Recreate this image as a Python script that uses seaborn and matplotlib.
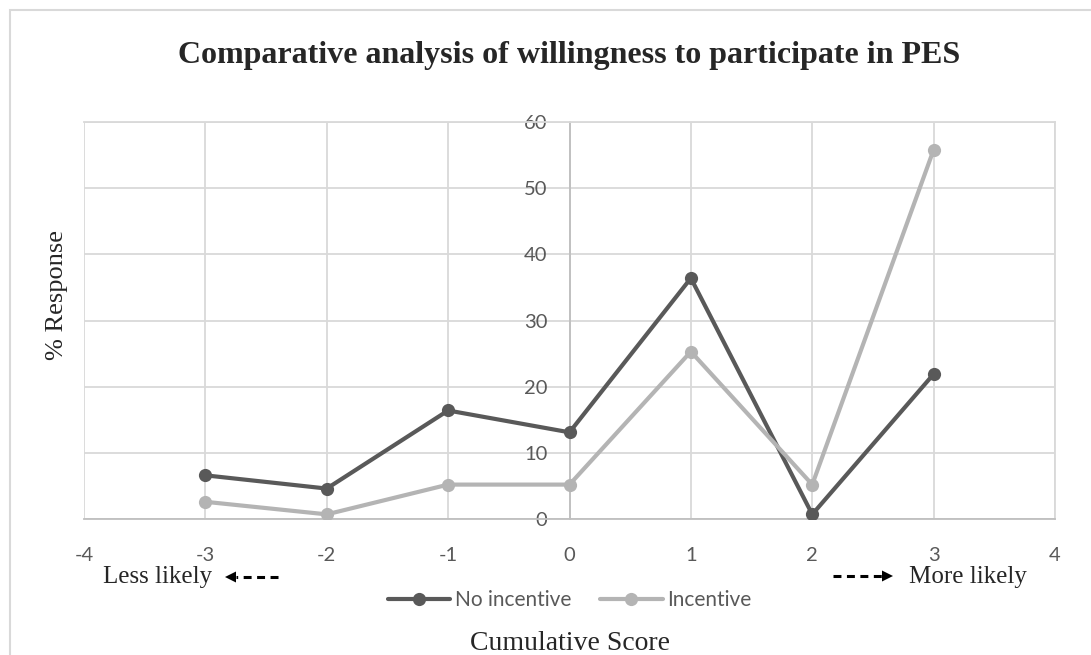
import matplotlib
matplotlib.use("Agg")
import matplotlib.pyplot as plt
import matplotlib.patches as mpatches
from matplotlib.lines import Line2D
import seaborn as sns
import pandas as pd

# Data
scores = [-3, -2, -1, 0, 1, 2, 3]
no_incentive = [6.6, 4.6, 16.4, 13.1, 36.4, 0.7, 21.9]
incentive = [2.6, 0.7, 5.2, 5.2, 25.3, 5.2, 55.8]
series_names = ["No incentive", "Incentive"]
x_ticks = [-4, -3, -2, -1, 0, 1, 2, 3, 4]
y_ticks = [0, 10, 20, 30, 40, 50, 60]

df = pd.DataFrame({
    "score": scores * 2,
    "pct": no_incentive + incentive,
    "group": [series_names[0]] * len(scores) + [series_names[1]] * len(scores),
})

sns.set_theme(style="white")
plt.rcParams["font.family"] = ["Lato", "DejaVu Sans"]
plt.rcParams["axes.unicode_minus"] = False
serif = "Liberation Serif"

W, H = 1091, 655
fig = plt.figure(figsize=(W / 100, H / 100), dpi=100)
fig.patch.set_facecolor("white")


def fx(px):
    return px / W


def fy(py):
    return (H - py) / H


# Chart-area border
fig.patches.append(mpatches.Rectangle((fx(10), -0.1), 1.2, fy(10) + 0.1,
                                      transform=fig.transFigure, fill=False,
                                      edgecolor="#d9d9d9", linewidth=1.5))

ax = fig.add_axes([fx(84), fy(519), fx(1055) - fx(84), fy(122) - fy(519)])

palette = {"No incentive": "#595959", "Incentive": "#b4b4b4"}
sns.lineplot(data=df, x="score", y="pct", hue="group", palette=palette,
             marker="o", markersize=9.5, markeredgewidth=0, linewidth=3,
             ax=ax, legend=False, zorder=3)

ax.set_xlim(-4, 4)
ax.set_ylim(0, 60)
ax.set_xticks(x_ticks)
ax.set_yticks(y_ticks)
ax.grid(True, color="#d9d9d9", linewidth=1.3)
ax.set_axisbelow(True)

for s in ["top", "right"]:
    ax.spines[s].set_visible(True)
    ax.spines[s].set_color("#d9d9d9")
    ax.spines[s].set_linewidth(1.3)
ax.spines["bottom"].set_color("#bfbfbf")
ax.spines["bottom"].set_linewidth(1.3)
ax.spines["left"].set_position(("data", 0))
ax.spines["left"].set_color("#bfbfbf")
ax.spines["left"].set_linewidth(1.3)
ax.tick_params(axis="both", length=0, labelsize=14.5, colors="#595959")
ax.tick_params(axis="x", pad=20)
ax.tick_params(axis="y", pad=16)
ax.set_xlabel("")
ax.set_ylabel("")

# Titles and axis labels
fig.text(fx(569.5), fy(63), "Comparative analysis of willingness to participate in PES",
         ha="center", va="baseline", fontsize=23, fontweight="bold", family=serif)
fig.text(fx(57), fy(295), "% Response", rotation=90, ha="center", va="center",
         fontsize=19, family=serif)
fig.text(fx(569.5), fy(650), "Cumulative Score", ha="center", va="baseline",
         fontsize=20, family=serif)

# Direction hints
fig.text(fx(103), fy(583), "Less likely", ha="left", va="baseline",
         fontsize=18, family=serif)
fig.text(fx(1027), fy(583), "More likely", ha="right", va="baseline",
         fontsize=18, family=serif)


def dashed_arrow(x_tail, x_tip, y):
    head = 11 if x_tip > x_tail else -11
    fig.lines.append(Line2D([fx(x_tail), fx(x_tip - head)], [fy(y), fy(y)],
                            transform=fig.transFigure, color="black",
                            linewidth=2.2, linestyle=(0, (2.6, 1.8))))
    fig.patches.append(mpatches.Polygon(
        [(fx(x_tip), fy(y)), (fx(x_tip - head), fy(y - 5.5)), (fx(x_tip - head), fy(y + 5.5))],
        closed=True, transform=fig.transFigure, facecolor="black", edgecolor="none"))


dashed_arrow(278, 225, 577)
dashed_arrow(833, 893, 576)

# Legend
handles = [Line2D([], [], color=palette[n], marker="o", markersize=9.5,
                  markeredgewidth=0, linewidth=3) for n in series_names]
fig.legend(handles, series_names, loc="center", bbox_to_anchor=(fx(569.5), fy(600)),
           ncol=2, frameon=False, fontsize=15, handlelength=3.0, handletextpad=0.2,
           columnspacing=1.4, labelcolor="#595959")

fig.savefig("out.png", dpi=100, facecolor="white")
